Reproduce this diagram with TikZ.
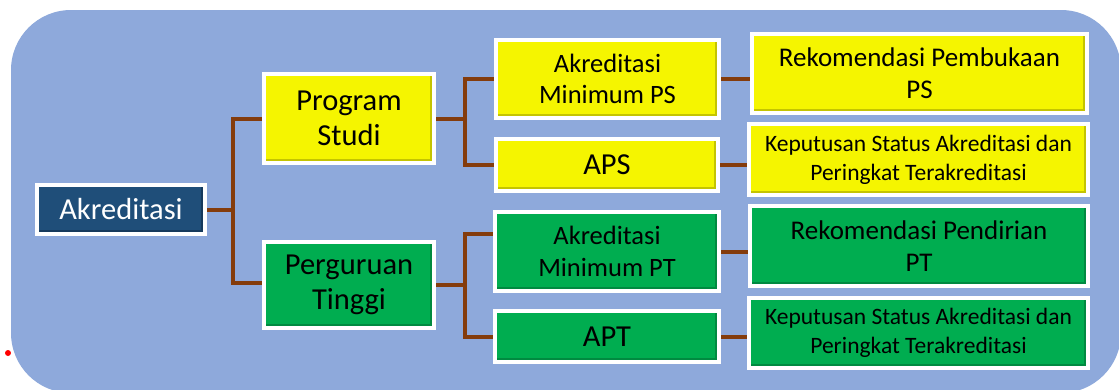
\documentclass[tikz,border=0pt]{standalone}
\usepackage{fontspec}
\setmainfont{Carlito}
\usetikzlibrary{backgrounds,shadows}
\definecolor{bgblue}{HTML}{8EA9DB}
\definecolor{navy}{HTML}{1F4E79}
\definecolor{navydark}{HTML}{163A5C}
\definecolor{yel}{HTML}{F5F500}
\definecolor{yeldark}{HTML}{C4C400}
\definecolor{grn}{HTML}{00AD50}
\definecolor{grndark}{HTML}{008A40}
\definecolor{brown}{HTML}{843C0C}
\tikzset{
  box/.style={draw=white, line width=3.5pt, inner sep=0pt, align=center,
    drop shadow={opacity=0.35, shadow xshift=1.2pt, shadow yshift=-1.2pt},
    path picture={
      \fill[#1] (path picture bounding box.south west) rectangle ([yshift=4.5pt]path picture bounding box.south east);
      \fill[#1] ([xshift=-4pt]path picture bounding box.south east) rectangle (path picture bounding box.north east);
    }},
  ybox/.style={box=yeldark, fill=yel, text=black},
  gbox/.style={box=grndark, fill=grn, text=black},
  bbox/.style={box=navydark, fill=navy, text=white},
  big/.style={font=\fontsize{30.5}{35}\selectfont},
  mid/.style={font=\fontsize{26.5}{31.5}\selectfont},
  rec/.style={font=\fontsize{27}{32}\selectfont},
  small/.style={font=\fontsize{23.5}{29}\selectfont},
  conn/.style={draw=brown, line width=4pt}
}
\begin{document}
\begin{tikzpicture}[x=1pt,y=-1pt]
\useasboundingbox (0,0) rectangle (1119,389);
% nodes
\node[bbox, big, minimum width=168pt, minimum height=49pt] (akr) at (121,209.5) {Akreditasi};
\node[ybox, big, minimum width=170pt, minimum height=89pt] (ps) at (349,118.5) {Program\\Studi};
\node[gbox, big, minimum width=170pt, minimum height=86pt] (pt) at (349,285) {Perguruan\\Tinggi};
\node[ybox, mid, minimum width=223pt, minimum height=78pt] (amps) at (607.5,79) {Akreditasi\\Minimum PS};
\node[ybox, big, minimum width=222pt, minimum height=52pt] (aps) at (607,165) {APS};
\node[gbox, mid, minimum width=224pt, minimum height=79pt] (ampt) at (607,251.5) {Akreditasi\\Minimum PT};
\node[gbox, big, minimum width=224pt, minimum height=51pt] (apt) at (607,336.5) {APT};
\node[ybox, rec, minimum width=335pt, minimum height=79pt] (rps) at (919.5,73.5) {Rekomendasi Pembukaan\\PS};
\node[ybox, small, minimum width=339pt, minimum height=71pt] (kps) at (918.5,159.5) {Keputusan Status Akreditasi dan\\Peringkat Terakreditasi};
\node[gbox, rec, minimum width=338pt, minimum height=80pt] (rpt) at (919,246) {Rekomendasi Pendirian\\PT};
\node[gbox, small, minimum width=339pt, minimum height=70pt] (kpt) at (918.5,333) {Keputusan Status Akreditasi dan\\Peringkat Terakreditasi};
\node[circle, fill=red, inner sep=0pt, minimum size=6pt] (dot) at (8,353) {};
\begin{pgfonlayer}{background}
  \fill[bgblue, rounded corners=60pt] (11,10) rectangle (1121,393);
  \draw[conn] (akr.east) -- ++(26,0) |- (ps.west);
  \draw[conn] (akr.east) -- ++(26,0) |- ([yshift=2pt]pt.west);
  \draw[conn] (ps.east) -- ++(29,0) |- (amps.west);
  \draw[conn] (ps.east) -- ++(29,0) |- (aps.west);
  \draw[conn] (pt.east) -- ++(29,0) |- ([yshift=17.5pt]ampt.west);
  \draw[conn] (pt.east) -- ++(29,0) |- (apt.west);
  \draw[conn] (amps.east) -- (amps.east -| rps.west);
  \draw[conn] (aps.east) -- (aps.east -| kps.west);
  \draw[conn] (ampt.east) -- (ampt.east -| rpt.west);
  \draw[conn] (apt.east) -- (apt.east -| kpt.west);
\end{pgfonlayer}
\end{tikzpicture}
\end{document}
